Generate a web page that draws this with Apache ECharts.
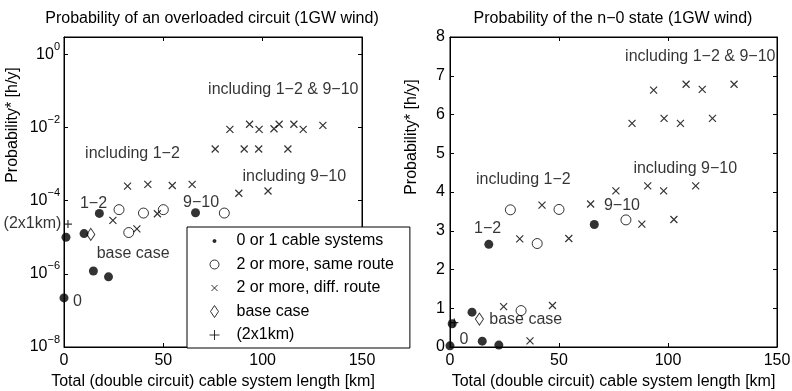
<!DOCTYPE html>
<html>
<head>
<meta charset="utf-8">
<script src="https://cdn.jsdelivr.net/npm/echarts@6/dist/echarts.min.js"></script>
<style>
html, body { margin: 0; padding: 0; background: #fff; }
#main { width: 792px; height: 391px; }
</style>
</head>
<body>
<div id="main"></div>
<script>
// lengths are total (double circuit) cable length in km, shared by both panels
// 0 or 1 cable systems
const dotLen = [0, 1, 10.1, 14.8, 17.8, 22.4, 66.2];
const dotOverload = [2.2e-7, 1.0e-5, 1.26e-5, 1.2e-6, 4.5e-5, 8.3e-7, 4.7e-5];
const dotN0 = [0.03, 0.6, 0.9, 0.15, 2.65, 0.05, 3.16];

// 2 or more, same route
const circLen = [27.7, 32.6, 40, 50, 80.7];
const circOverload = [5.7e-5, 1.35e-5, 4.6e-5, 5.7e-5, 4.6e-5];
const circN0 = [3.54, 0.94, 2.67, 3.55, 3.28];

// 2 or more, different route
const crossLen = [24.6, 36.7, 47, 32, 42.2, 54.5, 64.5, 76.1, 90.7, 98, 112.7, 88, 102.7,
  83.5, 98.2, 105.7, 120.4, 93.4, 108.3, 115.7, 130.3];
const crossOverload = [2.9e-5, 1.7e-5, 4.4e-5, 2.5e-4, 2.8e-4, 2.6e-4, 2.8e-4, 2.6e-3, 2.6e-3, 2.6e-3, 2.6e-3, 1.6e-4, 1.85e-4,
  8.9e-3, 8.9e-3, 9.3e-3, 8.9e-3, 1.23e-2, 1.23e-2, 1.23e-2, 1.15e-2];
const crossN0 = [1.04, 0.16, 1.07, 2.79, 3.66, 2.8, 3.69, 4.03, 4.16, 4.03, 4.16, 3.17, 3.29,
  5.77, 5.9, 5.77, 5.9, 6.63, 6.78, 6.65, 6.78];

// base case and (2x1km)
const baseLen = [13.5];
const baseOverload = [1.2e-5];
const baseN0 = [0.72];
const twoLen = [2];
const twoOverload = [2.3e-5];
const twoN0 = [0.63];

// text annotations, anchored at their left end
const noteText = ['including 1\u22122 & 9\u221210', 'including 1\u22122', 'including 9\u221210', '1\u22122', '9\u221210', 'base case', '0'];
const noteLenL = [72.5, 10.6, 89.8, 8, 59.9, 16.4, 4.5];
const noteValL = [0.11, 1.9e-3, 4.7e-4, 8.5e-5, 8.9e-5, 3.6e-6, 1.8e-7];
const noteLenR = [80.3, 11.9, 84.1, 11, 70.6, 18, 4.3];
const noteValR = [7.49, 4.31, 4.61, 3.06, 3.64, 0.71, 0.18];

const xTicks = [0, 150, 50];      // min, max, step
const logTicks = [-8, 2];          // min exponent, step (max is 3)

const FONT = '"Liberation Sans", Arial, Helvetica, sans-serif';
const FS = 16;
const lg = Math.log10;
const pairs = (xs, ys, f) => xs.map((x, i) => [x, f ? f(ys[i]) : ys[i]]);

const CROSS = 'path://M0,0L10,10M10,0L0,10';
const PLUS = 'path://M5,0L5,10M0,5L10,5';
const DIAMOND = 'path://M4,0L8,6L4,12L0,6Z';
const hollow = { color: 'rgba(0,0,0,0)', borderColor: '#000', borderWidth: 1 };
const lines = { color: 'rgba(0,0,0,0)', borderColor: '#000', borderWidth: 1.2 };

const cats = [
  { name: '0 or 1 cable systems', symbol: 'circle', size: 9, style: { color: '#000', borderColor: '#000', borderWidth: 0 },
    icon: 'path://M0,0M12,12M4.5,6a1.5,1.5 0 1,0 3,0a1.5,1.5 0 1,0 -3,0Z', L: [dotLen, dotOverload], R: [dotLen, dotN0] },
  { name: '2 or more, same route', symbol: 'circle', size: 10, style: hollow,
    icon: 'path://M0,0M12,12M1.5,6a4.5,4.5 0 1,0 9,0a4.5,4.5 0 1,0 -9,0Z', L: [circLen, circOverload], R: [circLen, circN0] },
  { name: '2 or more, diff. route', symbol: CROSS, size: 7, style: lines,
    icon: 'path://M0,0M12,12M3,3L9,9M9,3L3,9', L: [crossLen, crossOverload], R: [crossLen, crossN0] },
  { name: 'base case', symbol: DIAMOND, size: [8, 12], style: hollow,
    icon: 'path://M0,0M12,12M2,6L6,0L10,6L6,12Z', L: [baseLen, baseOverload], R: [baseLen, baseN0] },
  { name: '(2x1km)', symbol: PLUS, size: 8, style: lines,
    icon: 'path://M0,0M12,12M6,1L6,11M1,6L11,6', L: [twoLen, twoOverload], R: [twoLen, twoN0] }
];

const txt = { color: '#000', fontFamily: FONT, fontSize: FS };
const axisLine = { show: true, onZero: false, lineStyle: { color: '#000', width: 1 } };
const tick = { show: true, inside: true, length: 4, lineStyle: { color: '#000', width: 1 } };

const series = [];
cats.forEach(c => {
  series.push({
    type: 'scatter', name: c.name, xAxisIndex: 0, yAxisIndex: 0,
    symbol: c.symbol, symbolSize: c.size, itemStyle: c.style,
    data: pairs(c.L[0], c.L[1], lg),
    label: c.name === '(2x1km)' ? Object.assign({ show: true, position: 'left', distance: 2, formatter: '(2x1km)' }, txt) : { show: false }
  });
  series.push({
    type: 'scatter', name: c.name, xAxisIndex: 2, yAxisIndex: 2,
    symbol: c.symbol, symbolSize: c.size, itemStyle: c.style,
    data: pairs(c.R[0], c.R[1])
  });
});

// notes sit on the top/right axes so those axes have a series too
function notes(xi, yi, xs, ys, f) {
  return {
    type: 'scatter', name: 'notes', xAxisIndex: xi, yAxisIndex: yi, silent: true, z: 1,
    symbol: 'circle', symbolSize: 0.1, itemStyle: { color: 'rgba(0,0,0,0)' },
    label: Object.assign({ show: true, position: 'right', distance: 0, formatter: '{b}' }, txt),
    data: xs.map((x, i) => ({ name: noteText[i], value: [x, f ? f(ys[i]) : ys[i]] }))
  };
}
series.push(notes(1, 1, noteLenL, noteValL, lg));
series.push(notes(3, 3, noteLenR, noteValR));

function xAxes(g) {
  const base = { gridIndex: g, type: 'value', min: xTicks[0], max: xTicks[1], interval: xTicks[2],
    axisLine, axisTick: tick, splitLine: { show: false } };
  return [
    Object.assign({}, base, {
      position: 'bottom', axisLabel: Object.assign({ margin: 6 }, txt),
      name: 'Total (double circuit) cable system length [km]', nameLocation: 'middle', nameGap: 27, nameTextStyle: txt
    }),
    Object.assign({}, base, { position: 'top', axisLabel: { show: false } })
  ];
}

function expLabel(v) {
  const e = Math.round(v);
  if (Math.abs(v - e) > 1e-6) return '';
  return '{b|10}{e|' + (e === 0 ? '0' : '\u2212' + (-e)) + '}';
}

const logBase = { gridIndex: 0, type: 'value', min: logTicks[0], max: lg(3), interval: logTicks[1],
  axisLine, axisTick: tick, splitLine: { show: false } };
const linBase = { gridIndex: 1, type: 'value', min: 0, max: 8, interval: 1,
  axisLine, axisTick: tick, splitLine: { show: false } };

const gridBox = { containLabel: false, outerBoundsMode: 'none', show: true, borderColor: '#000', borderWidth: 1, backgroundColor: 'rgba(0,0,0,0)' };

const chart = echarts.init(document.getElementById('main'), null, { renderer: 'canvas' });
chart.setOption({
  animation: false,
  backgroundColor: '#fff',
  textStyle: { fontFamily: FONT, color: '#000' },
  title: [
    { text: 'Probability of an overloaded circuit (1GW wind)', left: 212, top: 11, padding: 0, textAlign: 'center',
      textStyle: { fontFamily: FONT, fontSize: FS, fontWeight: 'normal', color: '#000' } },
    { text: 'Probability of the n\u22120 state (1GW wind)', left: 613, top: 11, padding: 0, textAlign: 'center',
      textStyle: { fontFamily: FONT, fontSize: FS, fontWeight: 'normal', color: '#000' } }
  ],
  grid: [
    Object.assign({ left: 64, top: 37, width: 298, height: 310 }, gridBox),
    Object.assign({ left: 450, top: 37, width: 327, height: 310 }, gridBox)
  ],
  xAxis: xAxes(0).concat(xAxes(1)).map((a, i) => Object.assign(a, { gridIndex: i < 2 ? 0 : 1 })),
  yAxis: [
    Object.assign({}, logBase, { position: 'left', axisLabel: { margin: 4, formatter: expLabel,
      rich: {
        b: { fontFamily: FONT, fontSize: FS, lineHeight: 16, color: '#000', verticalAlign: 'bottom' },
        e: { fontFamily: FONT, fontSize: 11, lineHeight: 11, color: '#000', verticalAlign: 'bottom', padding: [0, 0, 10, 0] }
      } } }),
    Object.assign({}, logBase, { position: 'right', axisLabel: { show: false } }),
    Object.assign({}, linBase, { position: 'left', axisLabel: Object.assign({ margin: 5 }, txt) }),
    Object.assign({}, linBase, { position: 'right', axisLabel: { show: false } })
  ],
  legend: {
    orient: 'vertical', left: 187, top: 227, padding: [6, 16, 5, 21],
    itemWidth: 34, itemHeight: 12, itemGap: 7.5, symbolKeepAspect: true,
    backgroundColor: '#fff', borderColor: '#000', borderWidth: 1, borderRadius: 0,
    selectedMode: false,
    itemStyle: { borderWidth: 1 },
    textStyle: { fontFamily: FONT, fontSize: FS, lineHeight: 16, color: '#000' },
    data: cats.map(c => ({ name: c.name, icon: c.icon }))
  },
  graphic: [
    { type: 'text', x: 13, y: 125, rotation: Math.PI / 2,
      style: { text: 'Probability* [h/y]', align: 'center', verticalAlign: 'middle', font: FS + 'px ' + FONT, fill: '#000' } },
    { type: 'text', x: 412, y: 137, rotation: Math.PI / 2,
      style: { text: 'Probability* [h/y]', align: 'center', verticalAlign: 'middle', font: FS + 'px ' + FONT, fill: '#000' } }
  ],
  series
});
</script>
</body>
</html>
